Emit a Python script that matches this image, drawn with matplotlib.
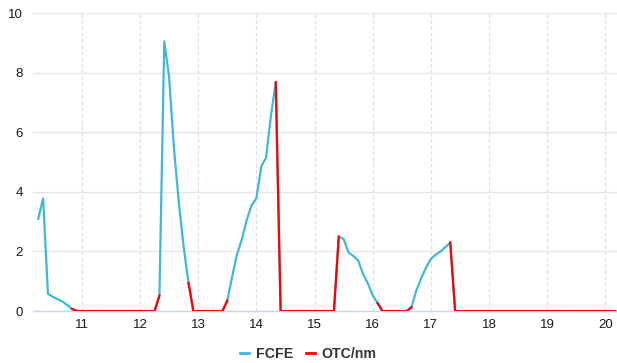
import numpy as np
import matplotlib.pyplot as plt

# monthly points, 10.25 .. 20.1667
months = 10 + np.arange(3, 123) / 12

fcfe = ([3.1, 3.78, 0.58, 0.48, 0.4, 0.32, 0.2, 0.07, 0]
        + [0] * 16
        + [0.52, 9.05, 7.85, 5.45, 3.65, 2.15, 0.95, 0]
        + [0] * 6
        + [0.35, 1.15, 1.9, 2.4, 3.05, 3.55, 3.78, 4.85, 5.15, 6.55, 7.68, 0]
        + [0] * 11
        + [2.5, 2.42, 1.97, 1.85, 1.7, 1.25, 0.93, 0.53, 0.27, 0]
        + [0] * 5
        + [0.13, 0.69, 1.1, 1.46, 1.75, 1.9, 2.0, 2.15, 2.3, 0])

N = None
otc = ([N] * 7 + [0.07, 0]
       + [0] * 16
       + [0.52, N, N, N, N, N, 0.95, 0]
       + [0] * 6
       + [0.35, N, N, N, N, N, N, N, N, N, 7.68, 0]
       + [0] * 11
       + [2.5, N, N, N, N, N, N, N, 0.27, 0]
       + [0] * 5
       + [0.13, N, N, N, N, N, N, N, 2.3, 0]
       + [0] * 33)

fcfe = np.array(fcfe, dtype=float)
otc = np.array(otc, dtype=float)

plt.rcParams['font.family'] = ['Liberation Sans', 'DejaVu Sans']

fig = plt.figure(figsize=(6.17, 3.63), dpi=100)
ax = fig.add_axes([0.0535, 0.143, 0.9465, 0.821])

ax.plot(months[:len(fcfe)], fcfe, color='#43b7d9', lw=1.6, label='FCFE', zorder=3)
ax.plot(months[:len(otc)], otc, color='#ff0000', lw=1.6, label='OTC/nm', zorder=4)

ax.set_xlim(10.16, 20.2)
ax.set_ylim(0, 10)
ax.set_yticks(range(0, 11, 2))
ax.set_xticks(range(11, 21))

for s in ['top', 'right', 'left']:
    ax.spines[s].set_visible(False)
ax.spines['bottom'].set_color('#ccd6eb')
ax.spines['bottom'].set_linewidth(1)

ax.grid(axis='y', color='#e6e6e6', lw=1, zorder=0)
ax.grid(axis='x', color='#e0e0e0', lw=0.9, ls=(0, (3, 2)), zorder=0)
ax.tick_params(axis='both', length=0, labelsize=9.5, colors='#1a1a1a')
ax.tick_params(axis='y', pad=7.5)
ax.tick_params(axis='x', pad=6)

leg = fig.legend(loc='center', bbox_to_anchor=(0.5, 1 - 354 / 363), ncol=2, frameon=False,
                 handlelength=0.6, handletextpad=0.5, columnspacing=0.9,
                 prop={'weight': 'bold', 'size': 10.2})
for t in leg.get_texts():
    t.set_color('#333333')
for h in leg.legend_handles:
    h.set_linewidth(2)

fig.savefig('out.png', dpi=100)
